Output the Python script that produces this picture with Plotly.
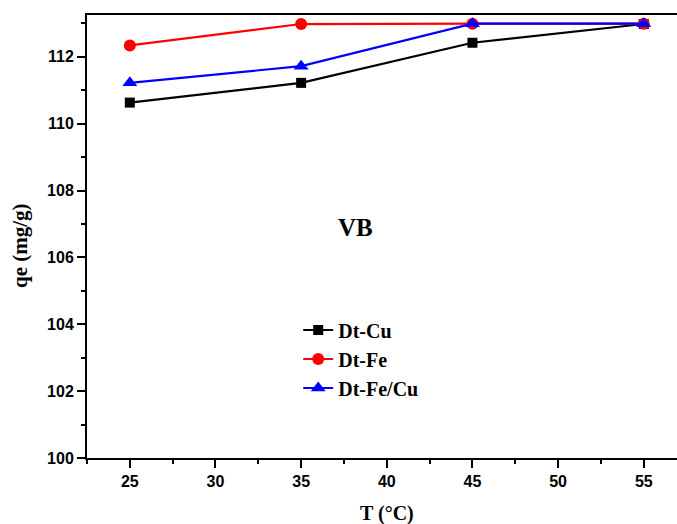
import plotly.graph_objects as go

T = [25, 35, 45, 55]
dt_cu = [110.63, 111.22, 112.42, 112.98]
dt_fe = [112.34, 112.98, 112.99, 112.99]
dt_fecu = [111.22, 111.72, 112.99, 112.99]

names = ["Dt-Cu", "Dt-Fe", "Dt-Fe/Cu"]
x_ticks = [25, 30, 35, 40, 45, 50, 55]
y_ticks = [100, 102, 104, 106, 108, 110, 112]

series = [dt_cu, dt_fe, dt_fecu]
colors = ["#000000", "#ff0000", "#0000ff"]
symbols = ["square", "circle", "triangle-up"]
sizes = [10, 12, 13]

fig = go.Figure()
for n, ys, c, s, sz in zip(names, series, colors, symbols, sizes):
    fig.add_trace(go.Scatter(
        x=T, y=ys, name=n, mode="lines+markers",
        line=dict(color=c, width=2.2),
        marker=dict(color=c, symbol=s, size=sz, line=dict(width=0)),
    ))

tickfont = dict(family="Liberation Sans, Arial", size=16, color="black", weight="bold")
serif = "Liberation Serif, Times New Roman"

fig.update_layout(
    width=677, height=524,
    margin=dict(l=87, r=0, t=15, b=66),
    paper_bgcolor="white", plot_bgcolor="white",
    showlegend=True,
    legend=dict(
        x=0.358, y=0.333, xanchor="left", yanchor="top",
        font=dict(family=serif, size=20, color="black", weight="bold"),
        bgcolor="rgba(0,0,0,0)", borderwidth=0, tracegroupgap=0,
    ),
    xaxis=dict(
        range=[22.5, 56.94], tickvals=x_ticks, ticktext=[str(v) for v in x_ticks],
        showgrid=False, zeroline=False, showline=True, linecolor="black", linewidth=2,
        mirror=True, ticks="outside", ticklen=8, tickwidth=2, tickcolor="black",
        tickfont=tickfont,
        minor=dict(tickvals=[22.5, 27.5, 32.5, 37.5, 42.5, 47.5, 52.5],
                   ticks="outside", ticklen=4, tickwidth=2, tickcolor="black", showgrid=False),
    ),
    yaxis=dict(
        range=[100, 113.25], tickvals=y_ticks, ticktext=[str(v) for v in y_ticks],
        showgrid=False, zeroline=False, showline=True, linecolor="black", linewidth=2,
        mirror=False, ticks="outside", ticklen=8, tickwidth=2, tickcolor="black",
        tickfont=tickfont,
        minor=dict(tickvals=[101, 103, 105, 107, 109, 111, 113],
                   ticks="outside", ticklen=4, tickwidth=2, tickcolor="black", showgrid=False),
    ),
    annotations=[
        dict(text="T (°C)", xref="paper", yref="paper", x=(387 - 87) / 590, y=-(513 - 458) / 443,
             xanchor="center", yanchor="middle", showarrow=False,
             font=dict(family=serif, size=20, color="black", weight="bold")),
        dict(text="qe (mg/g)", xref="paper", yref="paper", x=-(87 - 20) / 590, y=(458 - 246) / 443,
             xanchor="center", yanchor="middle", showarrow=False, textangle=-90,
             font=dict(family=serif, size=21, color="black", weight="bold")),
        dict(text="VB", xref="paper", yref="paper", x=(355 - 87) / 590, y=(458 - 227) / 443,
             xanchor="center", yanchor="middle", showarrow=False,
             font=dict(family=serif, size=25, color="black", weight="bold")),
    ],
)

fig.write_html("out.html")
